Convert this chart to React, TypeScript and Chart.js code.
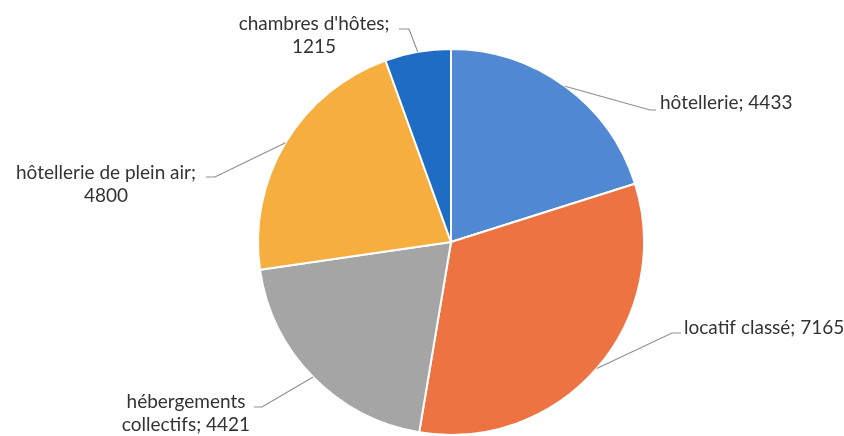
import React, { useEffect, useRef } from "react";
import { Chart, registerables } from "chart.js";

Chart.register(...registerables);

const categories = [
  "hôtellerie",
  "locatif classé",
  "hébergements collectifs",
  "hôtellerie de plein air",
  "chambres d'hôtes",
];
const values = [4433, 7165, 4421, 4800, 1215];
const colors = ["#5089d2", "#ee7343", "#a5a5a5", "#f6ae3f", "#1f6cc4"];

// label layout: text lines, anchor, alignment, leader elbow & end
const labelLines = [
  ["hôtellerie; 4433"],
  ["locatif classé; 7165"],
  ["hébergements", "collectifs; 4421"],
  ["hôtellerie de plein air;", "4800"],
  ["chambres d'hôtes;", "1215"],
];
const labelAnchors = [
  { x: 660, y: 103, align: "left" },
  { x: 684, y: 328, align: "left" },
  { x: 186, y: 402, align: "center" },
  { x: 106, y: 173, align: "center" },
  { x: 314, y: 24, align: "center" },
];
const leaderPts = [
  [[650, 110], [656, 110]],
  [[672, 333], [681, 333]],
  [[262, 407], [254, 407]],
  [[215, 177], [206, 177]],
  [[409, 29], [399, 29]],
];

const labelPlugin = {
  id: "pieLabels",
  afterDraw(chart: any) {
    const ctx = chart.ctx;
    const meta = chart.getDatasetMeta(0);
    ctx.save();
    meta.data.forEach((arc: any, i: number) => {
      const p = arc.getProps(["x", "y", "startAngle", "endAngle", "outerRadius"], true);
      const mid = (p.startAngle + p.endAngle) / 2;
      const sx = p.x + Math.cos(mid) * p.outerRadius;
      const sy = p.y + Math.sin(mid) * p.outerRadius;
      const [e, f] = leaderPts[i];
      ctx.strokeStyle = "#8f8f8f";
      ctx.lineWidth = 1.2;
      ctx.beginPath();
      ctx.moveTo(sx, sy);
      ctx.lineTo(e[0], e[1]);
      ctx.lineTo(f[0], f[1]);
      ctx.stroke();
      const a = labelAnchors[i];
      ctx.fillStyle = "#333333";
      ctx.font = "19px Lato, 'Open Sans', sans-serif";
      ctx.textAlign = a.align;
      ctx.textBaseline = "middle";
      labelLines[i].forEach((t, k) => ctx.fillText(t, a.x, a.y + k * 23));
    });
    ctx.restore();
  },
};

export default function App() {
  const ref = useRef<HTMLCanvasElement>(null);
  useEffect(() => {
    document.body.style.margin = "0";
    const chart = new Chart(ref.current!, {
      type: "pie",
      data: {
        labels: categories,
        datasets: [
          {
            data: values,
            backgroundColor: colors,
            borderColor: "#ffffff",
            borderWidth: 2,
          },
        ],
      },
      options: {
        responsive: false,
        animation: false,
        layout: { padding: { top: 48, bottom: -2, left: 256, right: 198 } },
        plugins: { legend: { display: false }, tooltip: { enabled: false } },
      },
      plugins: [labelPlugin],
    });
    return () => chart.destroy();
  }, []);
  return (
    <div style={{ position: "fixed", left: 0, top: 0, width: 844, height: 436, background: "#fff" }}>
      <canvas ref={ref} width={844} height={436} />
    </div>
  );
}
